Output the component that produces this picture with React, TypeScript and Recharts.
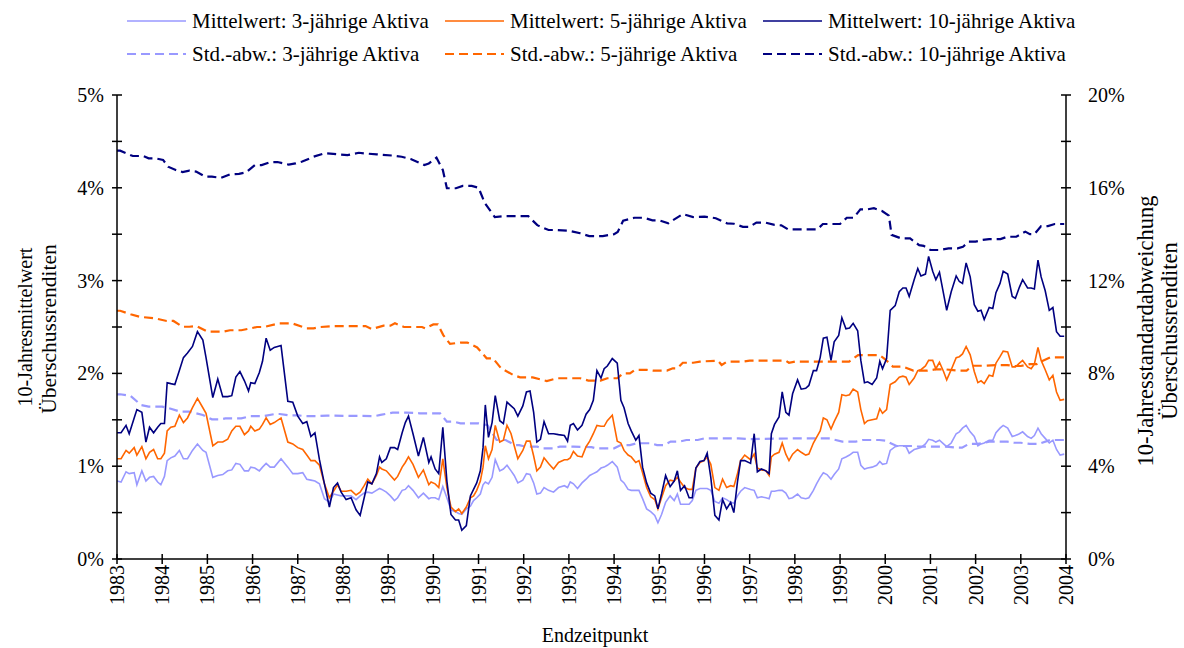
import { LineChart, Line, XAxis, YAxis } from 'recharts';

const FONT = '"Liberation Serif", "Times New Roman", serif';

const YEARS = [1983, 1984, 1985, 1986, 1987, 1988, 1989, 1990, 1991, 1992, 1993, 1994, 1995, 1996, 1997, 1998, 1999, 2000, 2001, 2002, 2003, 2004];
const LEFT_TICKS = [0, 0.5, 1, 1.5, 2, 2.5, 3, 3.5, 4, 4.5, 5];
const RIGHT_TICKS = [0, 2, 4, 6, 8, 10, 12, 14, 16, 18, 20];

// Mittelwerte (linke Achse, %)
const MEAN_YEARS = [
  1983.0, 1983.09, 1983.2, 1983.27, 1983.38, 1983.44, 1983.55, 1983.64, 1983.72, 1983.81, 1983.9, 1983.97,
  1984.05, 1984.11, 1984.19, 1984.28, 1984.38, 1984.47, 1984.56, 1984.67, 1984.78, 1984.9, 1984.97,
  1985.12, 1985.23, 1985.34, 1985.45, 1985.54, 1985.63, 1985.72, 1985.82, 1985.91, 1985.96,
  1986.05, 1986.15, 1986.22, 1986.3, 1986.39, 1986.48, 1986.63, 1986.78, 1986.89,
  1987.0, 1987.11, 1987.2, 1987.29, 1987.38, 1987.48, 1987.59, 1987.7, 1987.79, 1987.88, 1987.96,
  1988.07, 1988.18, 1988.29, 1988.38, 1988.47, 1988.55, 1988.64, 1988.74, 1988.81, 1988.86, 1988.96,
  1989.05, 1989.14, 1989.21, 1989.31, 1989.38, 1989.45, 1989.55, 1989.67, 1989.78, 1989.9, 1989.95,
  1990.04, 1990.12, 1990.21, 1990.3, 1990.39, 1990.49, 1990.56, 1990.63, 1990.73, 1990.82, 1990.89, 1990.96,
  1991.04, 1991.1, 1991.15, 1991.22, 1991.3, 1991.37, 1991.47, 1991.55, 1991.63, 1991.72, 1991.79, 1991.87, 1991.98,
  1992.06, 1992.14, 1992.22, 1992.29, 1992.37, 1992.45, 1992.55, 1992.66, 1992.77, 1992.9, 1992.97,
  1993.03, 1993.1, 1993.19, 1993.29, 1993.38, 1993.46, 1993.54, 1993.62, 1993.71, 1993.78, 1993.85, 1993.96,
  1994.07, 1994.15, 1994.22, 1994.31, 1994.38, 1994.48, 1994.55, 1994.63, 1994.72, 1994.81, 1994.9, 1994.97,
  1995.05, 1995.14, 1995.24, 1995.33, 1995.4, 1995.47, 1995.56, 1995.66, 1995.73, 1995.81, 1995.9, 1995.99,
  1996.06, 1996.14, 1996.23, 1996.32, 1996.4, 1996.49, 1996.58, 1996.65, 1996.73, 1996.8, 1996.89,
  1997.02, 1997.1, 1997.17, 1997.26, 1997.36, 1997.43, 1997.48, 1997.55, 1997.65, 1997.72, 1997.8, 1997.87, 1997.95,
  1998.06, 1998.14, 1998.24, 1998.31, 1998.41, 1998.48, 1998.56, 1998.63, 1998.71, 1998.8, 1998.87, 1998.97,
  1999.04, 1999.13, 1999.21, 1999.29, 1999.39, 1999.46, 1999.54, 1999.61, 1999.71, 1999.81, 1999.88, 1999.94,
  2000.03, 2000.11, 2000.22, 2000.31, 2000.39, 2000.46, 2000.53, 2000.64, 2000.72, 2000.79, 2000.89, 2000.96,
  2001.05, 2001.12, 2001.2, 2001.29, 2001.36, 2001.46, 2001.57, 2001.64, 2001.71, 2001.79, 2001.88, 2001.97,
  2002.05, 2002.12, 2002.19, 2002.3, 2002.38, 2002.45, 2002.54, 2002.61, 2002.71, 2002.81, 2002.88, 2002.97,
  2003.04, 2003.15, 2003.23, 2003.3, 2003.38, 2003.45, 2003.54, 2003.63, 2003.71, 2003.79, 2003.87, 2003.96,
];

const MEAN_10 = [
  1.36, 1.36, 1.44, 1.35, 1.52, 1.61, 1.58, 1.26, 1.42, 1.36, 1.42, 1.46,
  1.46, 1.9, 1.89, 1.88, 2.03, 2.17, 2.22, 2.29, 2.45, 2.36, 2.17,
  1.74, 1.94, 1.75, 1.75, 1.76, 1.96, 2.02, 1.92, 1.81, 1.9,
  1.89, 2.01, 2.13, 2.38, 2.25, 2.28, 2.3, 1.7, 1.69,
  1.54, 1.46, 1.48, 1.32, 1.36, 1.07, 0.81, 0.56, 0.77, 0.82, 0.72,
  0.64, 0.66, 0.53, 0.47, 0.66, 0.83, 0.81, 0.92, 1.1, 1.04, 1.08,
  1.2, 1.2, 1.18, 1.36, 1.47, 1.54, 1.35, 1.11, 1.31, 1.04, 1.1,
  0.97, 0.92, 1.42, 0.84, 0.48, 0.42, 0.42, 0.31, 0.36, 0.68, 0.75, 0.82,
  0.95, 1.2, 1.66, 1.31, 1.47, 1.76, 1.49, 1.46, 1.69, 1.65, 1.62, 1.54, 1.65,
  1.8, 1.81, 1.58, 1.26, 1.29, 1.48, 1.35, 1.35, 1.34, 1.33, 1.27,
  1.44, 1.46, 1.39, 1.44, 1.56, 1.61, 1.71, 2.03, 1.95, 2.05, 2.08, 2.16,
  2.11, 1.71, 1.63, 1.46, 1.38, 1.28, 1.33, 0.99, 0.82, 0.71, 0.68, 0.54,
  0.7, 0.9, 0.78, 0.84, 0.95, 0.74, 0.79, 0.66, 0.66, 0.98, 1.05, 1.06,
  1.14, 0.88, 0.47, 0.42, 0.64, 0.54, 0.61, 0.5, 0.83, 1.06, 1.06,
  1.03, 1.35, 0.94, 0.97, 0.95, 0.92, 1.35, 1.45, 1.53, 1.8, 1.58, 1.55, 1.78,
  1.93, 1.83, 1.84, 1.87, 2.03, 2.03, 2.17, 2.38, 2.39, 2.14, 2.34, 2.41,
  2.6, 2.48, 2.49, 2.54, 2.46, 2.14, 1.9, 1.91, 1.88, 1.95, 2.13, 2.05,
  2.16, 2.68, 2.73, 2.88, 2.92, 2.92, 2.83, 3.01, 3.13, 3.05, 3.07, 3.26,
  3.1, 3.01, 3.09, 2.86, 2.68, 2.88, 3.05, 2.99, 2.97, 3.19, 3.04, 2.74,
  2.67, 2.68, 2.58, 2.71, 2.7, 2.87, 2.97, 3.1, 3.07, 2.83, 2.81, 2.93,
  3.01, 2.92, 2.92, 2.91, 3.22, 3.04, 2.89, 2.68, 2.71, 2.45, 2.4, 2.4,
];

const MEAN_5 = [
  1.08, 1.08, 1.17, 1.14, 1.2, 1.12, 1.21, 1.08, 1.15, 1.18, 1.08, 1.08,
  1.14, 1.38, 1.42, 1.43, 1.55, 1.47, 1.52, 1.63, 1.73, 1.63, 1.57,
  1.22, 1.26, 1.26, 1.29, 1.38, 1.43, 1.43, 1.34, 1.38, 1.43,
  1.38, 1.4, 1.45, 1.52, 1.45, 1.47, 1.52, 1.26, 1.24,
  1.2, 1.18, 1.12, 1.06, 1.06, 1.01, 0.81, 0.66, 0.73, 0.8, 0.73,
  0.73, 0.74, 0.69, 0.72, 0.79, 0.86, 0.81, 0.9, 0.99, 0.97, 0.95,
  0.9, 0.85, 0.89, 0.99, 1.04, 1.1, 1.02, 0.88, 0.96, 0.8, 0.83,
  0.81, 0.77, 1.08, 0.77, 0.56, 0.51, 0.54, 0.49, 0.56, 0.66, 0.68, 0.74,
  0.84, 0.99, 1.22, 1.08, 1.18, 1.44, 1.26, 1.28, 1.44, 1.35, 1.22, 1.08, 1.17,
  1.27, 1.27, 1.11, 0.95, 0.99, 1.09, 1.03, 0.97, 1.04, 1.07, 1.07,
  1.09, 1.16, 1.11, 1.1, 1.21, 1.27, 1.35, 1.44, 1.43, 1.43, 1.49, 1.55,
  1.27, 1.25, 1.17, 1.12, 1.1, 1.04, 1.06, 0.93, 0.77, 0.67, 0.64, 0.54,
  0.66, 0.79, 0.85, 0.84, 0.88, 0.83, 0.77, 0.75, 0.75, 0.98, 1.04, 1.06,
  1.1, 1.02, 0.77, 0.74, 0.86, 0.77, 0.79, 0.78, 0.92, 1.06, 1.12,
  1.07, 1.13, 0.98, 0.96, 0.95, 0.9, 1.1, 1.13, 1.15, 1.25, 1.13, 1.06, 1.13,
  1.18, 1.15, 1.12, 1.13, 1.25, 1.31, 1.38, 1.52, 1.5, 1.4, 1.48, 1.58,
  1.77, 1.76, 1.77, 1.83, 1.8, 1.61, 1.46, 1.49, 1.5, 1.51, 1.62, 1.57,
  1.61, 1.88, 1.91, 1.96, 1.97, 1.96, 1.88, 1.95, 2.03, 2.04, 2.08, 2.14,
  2.14, 2.05, 2.12, 2.02, 1.93, 2.04, 2.17, 2.18, 2.21, 2.29, 2.2, 2.02,
  1.9, 1.92, 1.89, 1.98, 1.97, 2.11, 2.18, 2.24, 2.23, 2.07, 2.07, 2.11,
  2.14, 2.07, 2.05, 2.1, 2.28, 2.14, 2.04, 1.93, 1.98, 1.8, 1.71, 1.72,
];

const MEAN_3 = [
  0.84, 0.83, 0.94, 0.92, 0.93, 0.8, 0.95, 0.84, 0.88, 0.89, 0.83, 0.8,
  0.89, 1.06, 1.09, 1.11, 1.17, 1.08, 1.08, 1.17, 1.24, 1.17, 1.15,
  0.88, 0.9, 0.91, 0.95, 0.96, 1.03, 1.02, 0.95, 0.95, 0.99,
  0.98, 0.95, 0.99, 1.03, 0.99, 0.99, 1.08, 0.99, 0.92,
  0.92, 0.93, 0.86, 0.85, 0.84, 0.81, 0.65, 0.61, 0.7, 0.69, 0.68,
  0.68, 0.68, 0.64, 0.68, 0.71, 0.72, 0.71, 0.74, 0.76, 0.75, 0.72,
  0.68, 0.63, 0.66, 0.74, 0.75, 0.79, 0.74, 0.66, 0.71, 0.65, 0.66,
  0.66, 0.64, 0.78, 0.66, 0.53, 0.51, 0.49, 0.48, 0.54, 0.57, 0.63, 0.66,
  0.7, 0.8, 0.83, 0.81, 0.88, 1.07, 0.95, 0.97, 1.01, 0.95, 0.9, 0.82, 0.85,
  0.92, 0.91, 0.82, 0.7, 0.71, 0.77, 0.74, 0.72, 0.77, 0.79, 0.77,
  0.83, 0.81, 0.76, 0.82, 0.86, 0.9, 0.92, 0.94, 0.98, 0.99, 1.01, 1.05,
  0.99, 0.85, 0.82, 0.75, 0.74, 0.74, 0.74, 0.65, 0.54, 0.51, 0.47, 0.39,
  0.48, 0.61, 0.68, 0.63, 0.7, 0.59, 0.59, 0.59, 0.63, 0.74, 0.76, 0.76,
  0.76, 0.74, 0.62, 0.6, 0.66, 0.64, 0.61, 0.6, 0.68, 0.73, 0.77,
  0.75, 0.74, 0.66, 0.67, 0.66, 0.65, 0.73, 0.73, 0.74, 0.74, 0.71, 0.65, 0.66,
  0.7, 0.66, 0.65, 0.66, 0.74, 0.81, 0.88, 0.93, 0.91, 0.86, 0.91, 0.97,
  1.08, 1.1, 1.12, 1.15, 1.15, 1.01, 0.97, 0.98, 0.99, 1.01, 1.05, 1.02,
  1.03, 1.17, 1.21, 1.22, 1.22, 1.21, 1.14, 1.18, 1.19, 1.2, 1.24, 1.29,
  1.28, 1.26, 1.28, 1.24, 1.21, 1.25, 1.35, 1.37, 1.41, 1.44, 1.37, 1.32,
  1.22, 1.24, 1.25, 1.28, 1.28, 1.36, 1.41, 1.44, 1.41, 1.32, 1.33, 1.35,
  1.37, 1.32, 1.3, 1.33, 1.41, 1.35, 1.3, 1.25, 1.28, 1.18, 1.12, 1.13,
];

// Standardabweichungen (rechte Achse, %): [Jahr, Wert]
const STD_10: [number, number][] = [
  [1983.0, 17.6], [1983.07, 17.6], [1983.35, 17.37], [1983.58, 17.37], [1983.7, 17.27], [1983.85, 17.27],
  [1984.02, 17.2], [1984.13, 16.91], [1984.3, 16.77], [1984.45, 16.68], [1984.6, 16.74], [1984.75, 16.7],
  [1984.95, 16.48], [1985.1, 16.48], [1985.3, 16.43], [1985.5, 16.58], [1985.7, 16.6], [1985.85, 16.66],
  [1986.05, 16.98], [1986.2, 16.98], [1986.4, 17.11], [1986.55, 17.11], [1986.8, 17.0], [1986.95, 17.05],
  [1987.1, 17.13], [1987.35, 17.34], [1987.6, 17.49], [1987.85, 17.45], [1988.1, 17.41], [1988.35, 17.51],
  [1988.5, 17.48], [1988.75, 17.44], [1989.1, 17.39], [1989.3, 17.34], [1989.5, 17.24], [1989.8, 16.98],
  [1989.9, 17.05], [1990.07, 17.3], [1990.21, 16.77], [1990.3, 15.98], [1990.5, 15.98], [1990.65, 16.08],
  [1990.85, 16.08], [1991.0, 16.0], [1991.14, 15.34], [1991.36, 14.74], [1991.6, 14.78], [1991.9, 14.78],
  [1992.1, 14.78], [1992.3, 14.39], [1992.55, 14.18], [1992.75, 14.18], [1993.0, 14.15], [1993.25, 14.04],
  [1993.45, 13.92], [1993.75, 13.92], [1994.0, 14.0], [1994.08, 14.1], [1994.2, 14.58], [1994.45, 14.71],
  [1994.65, 14.71], [1994.85, 14.6], [1995.0, 14.6], [1995.2, 14.47], [1995.3, 14.6], [1995.52, 14.87],
  [1995.75, 14.74], [1996.0, 14.76], [1996.25, 14.69], [1996.5, 14.47], [1996.65, 14.45], [1996.85, 14.32],
  [1997.0, 14.32], [1997.15, 14.5], [1997.35, 14.5], [1997.55, 14.4], [1997.7, 14.38], [1997.85, 14.21],
  [1998.0, 14.21], [1998.3, 14.21], [1998.5, 14.21], [1998.62, 14.44], [1998.85, 14.44], [1999.0, 14.44],
  [1999.15, 14.71], [1999.3, 14.71], [1999.45, 15.07], [1999.6, 15.07], [1999.75, 15.12], [1999.93, 15.0],
  [2000.08, 14.8], [2000.14, 13.97], [2000.35, 13.82], [2000.55, 13.82], [2000.75, 13.53], [2000.85, 13.5],
  [2001.0, 13.32], [2001.2, 13.32], [2001.4, 13.39], [2001.6, 13.39], [2001.72, 13.46], [2001.85, 13.68],
  [2002.0, 13.68], [2002.15, 13.75], [2002.3, 13.79], [2002.55, 13.79], [2002.7, 13.89], [2002.9, 13.89],
  [2003.1, 14.11], [2003.2, 14.0], [2003.3, 14.0], [2003.45, 14.35], [2003.6, 14.35], [2003.75, 14.44],
  [2003.96, 14.44],
];

const STD_5: [number, number][] = [
  [1983.0, 10.7], [1983.07, 10.7], [1983.3, 10.55], [1983.5, 10.44], [1983.85, 10.37], [1984.1, 10.26],
  [1984.25, 10.26], [1984.45, 10.01], [1984.6, 10.01], [1984.76, 10.04], [1985.0, 9.8], [1985.35, 9.8],
  [1985.5, 9.86], [1985.75, 9.86], [1986.1, 10.0], [1986.25, 10.0], [1986.6, 10.16], [1986.87, 10.16],
  [1987.2, 9.94], [1987.35, 9.94], [1987.5, 10.0], [1987.8, 10.04], [1988.5, 10.04], [1988.64, 9.91],
  [1988.9, 10.06], [1989.05, 10.06], [1989.15, 10.16], [1989.35, 10.0], [1989.75, 10.0], [1989.82, 9.94],
  [1990.0, 10.11], [1990.1, 10.11], [1990.22, 9.65], [1990.37, 9.27], [1990.6, 9.33], [1990.75, 9.33],
  [1990.97, 9.12], [1991.18, 8.65], [1991.32, 8.65], [1991.5, 8.22], [1991.77, 7.93], [1991.92, 7.83],
  [1992.2, 7.83], [1992.51, 7.67], [1992.74, 7.79], [1993.25, 7.79], [1993.43, 7.69], [1993.7, 7.69],
  [1993.85, 7.79], [1994.07, 7.79], [1994.2, 8.0], [1994.35, 8.0], [1994.46, 8.15], [1994.73, 8.15],
  [1994.86, 8.12], [1995.17, 8.12], [1995.3, 8.22], [1995.4, 8.22], [1995.52, 8.46], [1995.75, 8.46],
  [1995.9, 8.51], [1996.3, 8.55], [1996.38, 8.36], [1996.5, 8.51], [1996.85, 8.51], [1997.0, 8.55],
  [1997.8, 8.55], [1997.87, 8.46], [1998.0, 8.51], [1999.2, 8.51], [1999.4, 8.79], [1999.87, 8.79],
  [2000.0, 8.61], [2000.17, 8.29], [2000.39, 8.29], [2000.62, 8.12], [2000.93, 8.12], [2001.1, 8.17],
  [2001.35, 8.17], [2001.6, 8.12], [2001.8, 8.12], [2001.93, 8.33], [2002.2, 8.33], [2002.45, 8.36],
  [2002.7, 8.36], [2002.85, 8.32], [2003.0, 8.32], [2003.2, 8.4], [2003.35, 8.4], [2003.45, 8.51],
  [2003.65, 8.69], [2003.96, 8.69],
];

const STD_3: [number, number][] = [
  [1983.0, 7.1], [1983.07, 7.1], [1983.3, 7.03], [1983.53, 6.64], [1983.7, 6.57], [1984.0, 6.57],
  [1984.15, 6.5], [1984.4, 6.35], [1984.6, 6.35], [1984.75, 6.28], [1984.9, 6.21], [1985.1, 6.02],
  [1985.3, 6.02], [1985.4, 6.06], [1985.75, 6.06], [1985.95, 6.16], [1986.25, 6.16], [1986.5, 6.25],
  [1986.6, 6.25], [1986.8, 6.19], [1987.0, 6.19], [1987.15, 6.16], [1987.45, 6.16], [1987.65, 6.18],
  [1988.7, 6.16], [1988.83, 6.21], [1989.1, 6.31], [1989.4, 6.31], [1989.7, 6.28], [1990.15, 6.28],
  [1990.3, 5.92], [1990.45, 5.92], [1990.6, 5.85], [1991.0, 5.85], [1991.2, 5.77], [1991.4, 5.13],
  [1991.6, 5.13], [1991.8, 4.91], [1991.9, 4.91], [1992.05, 4.84], [1992.3, 4.84], [1992.4, 4.77],
  [1992.65, 4.77], [1992.8, 4.84], [1993.1, 4.84], [1993.5, 4.82], [1993.6, 4.77], [1994.0, 4.77],
  [1994.15, 4.91], [1994.35, 4.91], [1994.5, 4.99], [1994.8, 4.99], [1994.95, 4.91], [1995.1, 4.91],
  [1995.25, 5.06], [1995.45, 5.06], [1995.6, 5.13], [1995.85, 5.13], [1996.0, 5.2], [1996.75, 5.2],
  [1997.0, 5.17], [1998.1, 5.2], [1998.75, 5.2], [1999.05, 5.06], [1999.35, 5.06], [1999.5, 5.13],
  [1999.87, 5.13], [2000.0, 5.1], [2000.25, 4.87], [2000.6, 4.87], [2000.75, 4.84], [2001.35, 4.84],
  [2001.6, 4.8], [2001.7, 4.8], [2001.85, 4.96], [2002.05, 4.96], [2002.3, 5.06], [2002.7, 5.06],
  [2002.85, 5.01], [2003.0, 5.01], [2003.2, 4.96], [2003.4, 4.96], [2003.65, 5.13], [2003.96, 5.13],
];

const COLOR_3 = '#9999ff';
const COLOR_5 = '#ff6600';
const COLOR_10 = '#000080';

const LEGEND = [
  { label: 'Mittelwert: 3-jährige Aktiva', color: COLOR_3, dashed: false },
  { label: 'Mittelwert: 5-jährige Aktiva', color: COLOR_5, dashed: false },
  { label: 'Mittelwert: 10-jährige Aktiva', color: COLOR_10, dashed: false },
  { label: 'Std.-abw.: 3-jährige Aktiva', color: COLOR_3, dashed: true },
  { label: 'Std.-abw.: 5-jährige Aktiva', color: COLOR_5, dashed: true },
  { label: 'Std.-abw.: 10-jährige Aktiva', color: COLOR_10, dashed: true },
];

const meanData = MEAN_YEARS.map((x, i) => ({ x, m3: MEAN_3[i], m5: MEAN_5[i], m10: MEAN_10[i] }));
const toPoints = (arr: [number, number][]) => arr.map(([x, v]) => ({ x, v }));

const textStyle = { fontFamily: FONT, fontSize: 20, fill: '#000' };

function LeftTick({ x, y, payload }: any) {
  const v = payload.value;
  return (
    <g>
      <line x1={x - 5} x2={x + 5} y1={y} y2={y} stroke="#000" strokeWidth={1.5} />
      {Number.isInteger(v) && (
        <text x={x - 13} y={y} textAnchor="end" dominantBaseline="central" style={textStyle}>{v}%</text>
      )}
    </g>
  );
}

function RightTick({ x, y, payload }: any) {
  const v = payload.value;
  return (
    <g>
      <line x1={x - 5} x2={x + 5} y1={y} y2={y} stroke="#000" strokeWidth={1.5} />
      {v % 4 === 0 && (
        <text x={x + 22} y={y} textAnchor="start" dominantBaseline="central" style={textStyle}>{v}%</text>
      )}
    </g>
  );
}

function YearTick({ x, y, payload }: any) {
  return (
    <g>
      <line x1={x} x2={x} y1={y - 5} y2={y + 5} stroke="#000" strokeWidth={1.5} />
      <text
        x={x}
        y={y + 6}
        transform={`rotate(-90 ${x} ${y + 6})`}
        textAnchor="end"
        dominantBaseline="central"
        style={textStyle}
      >
        {payload.value}
      </text>
    </g>
  );
}

export default function App() {
  return (
    <div style={{ position: 'absolute', left: 0, top: 0, width: 1184, height: 648, background: '#fff' }}>
      <LineChart width={1184} height={648} margin={{ top: 95, right: 58, bottom: 39, left: 57 }}>
        <XAxis
          type="number"
          dataKey="x"
          domain={[1983, 2004]}
          ticks={YEARS}
          interval={0}
          allowDataOverflow
          height={50}
          tickSize={0}
          tickMargin={0}
          tickLine={false}
          tick={<YearTick />}
          axisLine={{ stroke: '#000', strokeWidth: 1.5 }}
        />
        <YAxis
          yAxisId="left"
          domain={[0, 5]}
          ticks={LEFT_TICKS}
          interval={0}
          width={60}
          tickSize={0}
          tickMargin={0}
          tickLine={false}
          tick={<LeftTick />}
          axisLine={{ stroke: '#000', strokeWidth: 1.5 }}
        />
        <YAxis
          yAxisId="right"
          orientation="right"
          domain={[0, 20]}
          ticks={RIGHT_TICKS}
          interval={0}
          width={60}
          tickSize={0}
          tickMargin={0}
          tickLine={false}
          tick={<RightTick />}
          axisLine={{ stroke: '#000', strokeWidth: 1.5 }}
        />
        <Line yAxisId="right" data={toPoints(STD_3)} dataKey="v" type="linear" stroke={COLOR_3} strokeWidth={2.2} strokeDasharray="9 5" dot={false} isAnimationActive={false} />
        <Line yAxisId="right" data={toPoints(STD_5)} dataKey="v" type="linear" stroke={COLOR_5} strokeWidth={2.2} strokeDasharray="9 5" dot={false} isAnimationActive={false} />
        <Line yAxisId="right" data={toPoints(STD_10)} dataKey="v" type="linear" stroke={COLOR_10} strokeWidth={2.2} strokeDasharray="9 5" dot={false} isAnimationActive={false} />
        <Line yAxisId="left" data={meanData} dataKey="m3" type="linear" stroke={COLOR_3} strokeWidth={1.6} dot={false} isAnimationActive={false} />
        <Line yAxisId="left" data={meanData} dataKey="m5" type="linear" stroke={COLOR_5} strokeWidth={1.6} dot={false} isAnimationActive={false} />
        <Line yAxisId="left" data={meanData} dataKey="m10" type="linear" stroke={COLOR_10} strokeWidth={1.6} dot={false} isAnimationActive={false} />
      </LineChart>
      <svg width={1184} height={648} style={{ position: 'absolute', left: 0, top: 0, pointerEvents: 'none' }}>
        {LEGEND.map((item, i) => {
          const cx = 127 + (i % 3) * 318;
          const cy = 21 + Math.floor(i / 3) * 33;
          return (
            <g key={item.label}>
              <line x1={cx} x2={cx + 59} y1={cy} y2={cy} stroke={item.color} strokeWidth={item.dashed ? 2.2 : 1.6} strokeDasharray={item.dashed ? '9 5' : undefined} />
              <text x={cx + 65} y={cy} dominantBaseline="central" style={{ ...textStyle, fontSize: 21 }}>{item.label}</text>
            </g>
          );
        })}
        <text x={25} y={327} transform="rotate(-90 25 327)" textAnchor="middle" dominantBaseline="central" style={textStyle}>10-Jahresmittelwert</text>
        <text x={49} y={329} transform="rotate(-90 49 329)" textAnchor="middle" dominantBaseline="central" style={{ ...textStyle, fontSize: 21.5 }}>Überschussrenditen</text>
        <text x={1145} y={331} transform="rotate(-90 1145 331)" textAnchor="middle" dominantBaseline="central" style={{ ...textStyle, fontSize: 22.5 }}>10-Jahresstandardabweichung</text>
        <text x={1169} y={331} transform="rotate(-90 1169 331)" textAnchor="middle" dominantBaseline="central" style={{ ...textStyle, fontSize: 22.5 }}>Überschussrenditen</text>
        <text x={595} y={635} textAnchor="middle" dominantBaseline="central" style={textStyle}>Endzeitpunkt</text>
      </svg>
    </div>
  );
}
